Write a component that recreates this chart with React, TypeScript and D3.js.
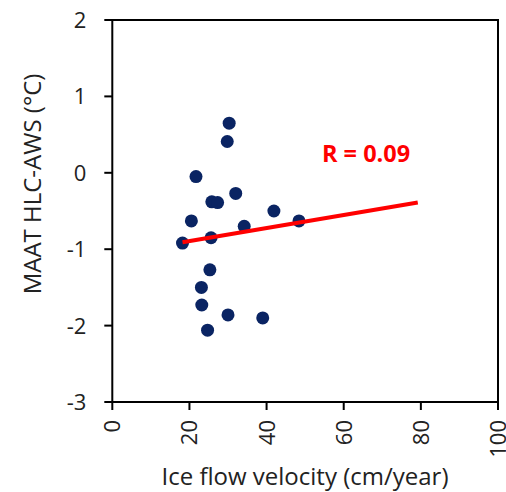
import React from "react";
import * as d3 from "d3";

const velocity = [30.3, 29.8, 21.7, 32.0, 25.8, 27.3, 20.5, 41.9, 48.4, 34.2, 18.2, 25.6, 25.3, 23.1, 23.2, 30.0, 39.0, 24.7];
const maat = [0.65, 0.41, -0.05, -0.27, -0.38, -0.39, -0.63, -0.5, -0.63, -0.7, -0.92, -0.85, -1.27, -1.5, -1.73, -1.86, -1.9, -2.06];
const fitX = [18.2, 79.2];
const fitY = [-0.91, -0.39];
const xTicks = [0, 20, 40, 60, 80, 100];
const yTicks = [-3, -2, -1, 0, 1, 2];
const rLabel = "R = 0.09";
const xTitle = "Ice flow velocity (cm/year)";
const yTitle = "MAAT HLC-AWS (°C)";

export default function App() {
  const W = 506, H = 492;
  const left = 112.3, right = 498, top = 20, bottom = 402;
  const x = d3.scaleLinear().domain([0, 100]).range([left, right]);
  const y = d3.scaleLinear().domain([-3, 2]).range([bottom, top]);
  const line = d3.line<number>().x((_, i) => x(fitX[i])).y((_, i) => y(fitY[i]));
  const font = "'Open Sans', sans-serif";
  return (
    <svg width={W} height={H} style={{ position: "absolute", left: 0, top: 0, background: "#fff" }} fontFamily={font}>
      <rect x={left} y={top} width={right - left} height={bottom - top} fill="none" stroke="#000" strokeWidth={2} />
      {yTicks.map((t) => (
        <g key={"y" + t}>
          <line x1={left - 8} x2={left} y1={y(t)} y2={y(t)} stroke="#000" strokeWidth={2} />
          <text x={left - 26} y={y(t)} dy="0.36em" textAnchor="end" fontSize={22} fill="#222">{t}</text>
        </g>
      ))}
      {xTicks.map((t) => (
        <g key={"x" + t}>
          <line x1={x(t)} x2={x(t)} y1={bottom} y2={bottom + 8} stroke="#000" strokeWidth={2} />
          <text transform={`translate(${x(t)},${bottom + 18}) rotate(-90)`} dy="0.36em" textAnchor="end" fontSize={22} fill="#222">{t}</text>
        </g>
      ))}
      <text x={305} y={485} textAnchor="middle" fontSize={24} fill="#222">{xTitle}</text>
      <text transform={`translate(41,184) rotate(-90)`} textAnchor="middle" fontSize={24} fill="#222">{yTitle}</text>
      {velocity.map((v, i) => (
        <circle key={i} cx={x(v)} cy={y(maat[i])} r={6.5} fill="#0a2463" />
      ))}
      <path d={line(fitX) || ""} fill="none" stroke="#ff0000" strokeWidth={4} />
      <text x={322} y={162} fontSize={23.5} fontWeight="bold" fill="#ff0000">{rLabel}</text>
    </svg>
  );
}
